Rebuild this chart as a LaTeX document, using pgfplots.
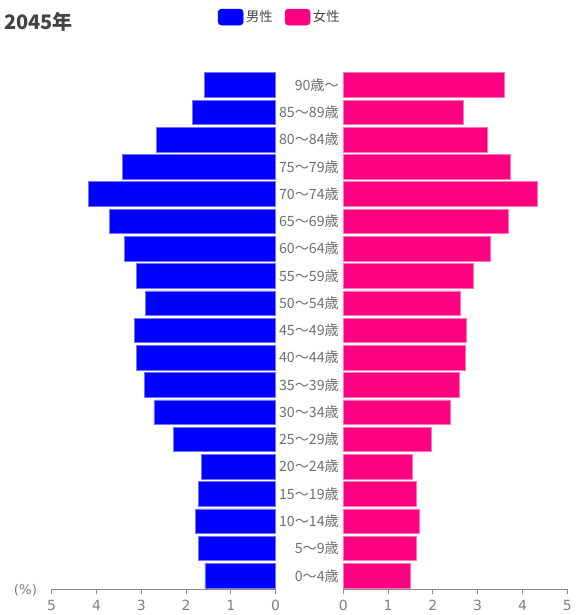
\documentclass[border=0pt]{standalone}
\usepackage{pgfplots}
\pgfplotsset{compat=1.18}
\usepackage{fontspec}
\setmainfont{DejaVu Sans}
\newfontfamily\cjk{Noto Sans CJK JP}
\definecolor{male}{HTML}{0000FF}
\definecolor{female}{HTML}{FF0080}
\definecolor{tickgray}{HTML}{7F7F7F}
\definecolor{labgray}{HTML}{6E6E6E}
\definecolor{axisgray}{HTML}{8C8C8C}
\definecolor{titlegray}{HTML}{444444}

\pgfplotstableread{
idx male female
0 1.58 1.50
1 1.72 1.62
2 1.79 1.70
3 1.73 1.62
4 1.65 1.55
5 2.29 1.96
6 2.72 2.38
7 2.93 2.59
8 3.10 2.72
9 3.16 2.75
10 2.91 2.62
11 3.10 2.90
12 3.38 3.28
13 3.71 3.69
14 4.18 4.32
15 3.42 3.72
16 2.66 3.22
17 1.85 2.68
18 1.59 3.60
}\pop

\pgfplotsset{pyr/.style={
  scale only axis, width=168pt, height=388.4pt,
  xmin=0, xmax=5, ymin=-0.5, ymax=18.5,
  xtick={0,1,2,3,4,5},
  /pgf/number format/assume math mode=true,
  axis x line*=bottom, axis y line*=left,
  y axis line style={draw=none},
  x axis line style={draw=axisgray, line width=0.7pt},
  xtick style={draw=axisgray, line width=0.7pt},
  ytick style={draw=none},
  tick align=outside, major tick length=3.75pt,
  xticklabel style={font=\fontsize{10.5}{12}\selectfont, text=tickgray, yshift=-1pt},
  clip=false,
}}

\begin{document}
\begin{tikzpicture}
\useasboundingbox (0pt,0pt) rectangle (432.75pt,461.25pt);
% left (male)
\begin{axis}[pyr, at={(38.775pt,19.275pt)}, anchor=south west,
  x dir=reverse, ytick=\empty]
\addplot[xbar, bar width=0.9, fill=male, draw=male!55!white, line width=0.5pt]
  table[x=male, y=idx] {\pop};
\end{axis}
% right (female)
\begin{axis}[pyr, at={(257.475pt,19.275pt)}, anchor=south west,
  ytick={0,...,18},
  yticklabels={0〜4歳,5〜9歳,10〜14歳,15〜19歳,20〜24歳,25〜29歳,30〜34歳,35〜39歳,40〜44歳,45〜49歳,50〜54歳,55〜59歳,60〜64歳,65〜69歳,70〜74歳,75〜79歳,80〜84歳,85〜89歳,90歳〜},
  yticklabel style={font=\cjk\fontsize{10.6}{12}\selectfont, text=labgray, inner sep=0pt, xshift=0.55pt},
  legend columns=2,
  legend style={at={(-0.282,1.105)}, anchor=center, draw=none,
    font=\cjk\fontsize{10}{12}\selectfont, text=titlegray,
    /tikz/every even column/.append style={column sep=7pt}},
  ]
\addlegendimage{legend image code/.code={\fill[male, rounded corners=2.5pt] (0pt,-6pt) rectangle (18.75pt,6pt);}}
\addlegendentry{男性}
\addlegendimage{legend image code/.code={\fill[female, rounded corners=2.5pt] (0pt,-6pt) rectangle (18.75pt,6pt);}}
\addlegendentry{女性}
\addplot[xbar, bar width=0.9, fill=female, draw=female!55!white, line width=0.5pt, forget plot]
  table[x=female, y=idx] {\pop};
\end{axis}
\node[anchor=center, text=tickgray, font=\fontsize{10}{12}\selectfont, inner sep=0pt] at (19.1pt,18.2pt) {(\%)};
\node[anchor=west, text=titlegray, font=\cjk\bfseries\fontsize{15}{18}\selectfont, inner sep=0pt] at (3pt,445pt) {2045年};
\end{tikzpicture}
\end{document}
